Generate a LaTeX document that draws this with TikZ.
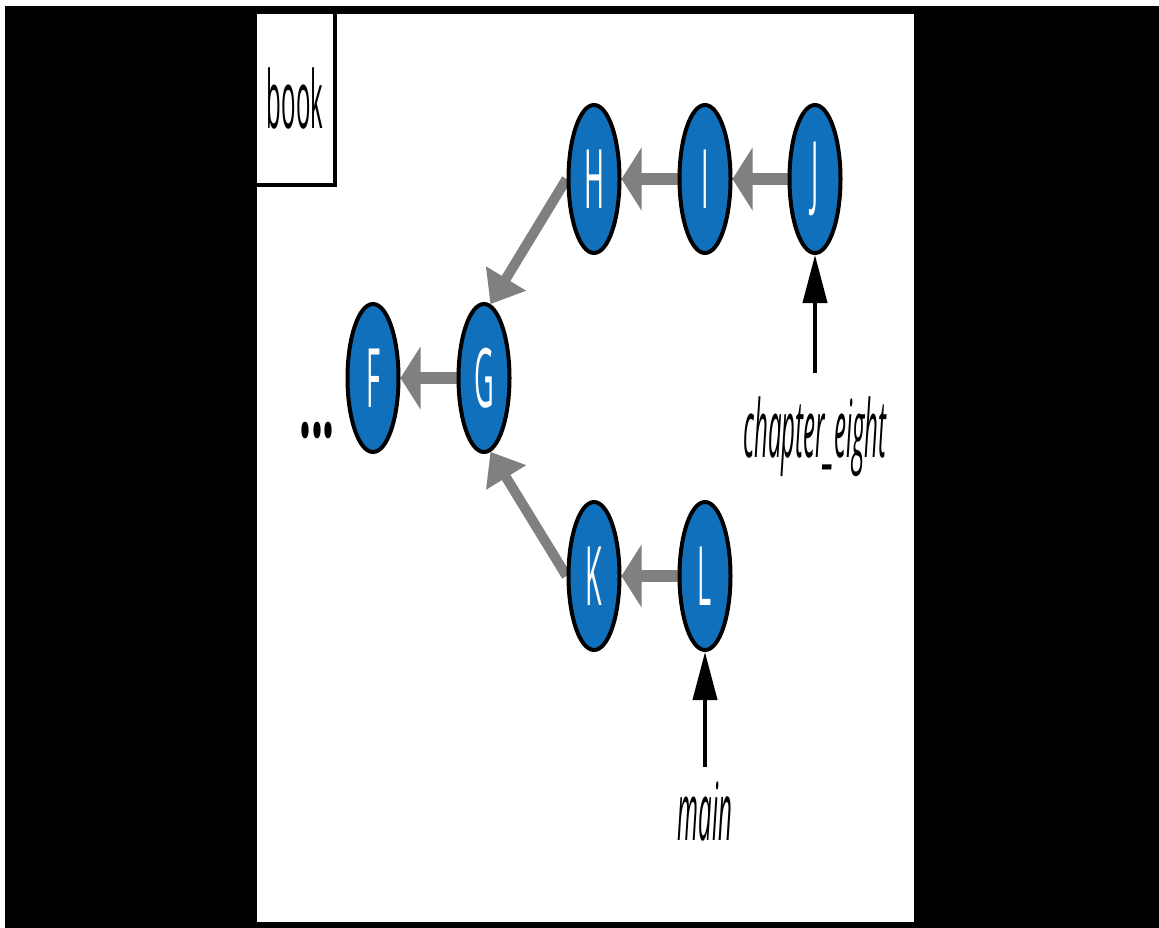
\documentclass[tikz,border=0pt]{standalone}
\usepackage{fontspec}
\setmainfont{Open Sans}
\newfontfamily\condletter[FakeStretch=0.33]{Open Sans}
\newfontfamily\condlabel[FakeStretch=0.30]{Open Sans}
\newfontfamily\conddots[FakeStretch=0.42]{Open Sans}
\usetikzlibrary{arrows.meta,shapes.geometric}
\definecolor{nodeblue}{RGB}{17,112,187}
\definecolor{arrowgray}{RGB}{128,128,128}
\pgfdeclarelayer{back}
\pgfdeclarelayer{links}
\pgfsetlayers{back,links,main}
\begin{document}
\begin{tikzpicture}[x=1pt,y=-1pt,
  commit/.style={ellipse, draw=black, line width=4pt, fill=nodeblue,
    minimum width=51pt, minimum height=148pt, inner sep=0pt, text=white,
    font=\condletter\fontsize{82}{82}\selectfont},
  garrow/.style={draw=arrowgray, line width=12pt,
    -{Triangle[length=20pt,width=62pt]}},
  darrow/.style={draw=arrowgray, line width=10pt,
    -{Triangle[length=30pt,width=45pt]}},
  barrow/.style={draw=black, line width=4pt,
    -{Triangle[length=48pt,width=24pt]}},
  reflabel/.style={font=\condlabel\itshape\fontsize{80}{80}\selectfont, inner sep=0pt, anchor=base},
  panelbox/.style={draw=black, line width=4pt, fill=white}
]
\useasboundingbox (0,0) rectangle (1159,928);
\begin{pgfonlayer}{back}
\fill[white] (0,0) rectangle (1159,928);
\fill[black] (5,6) rectangle (1159,928);
\draw[panelbox] (255,12) rectangle (916,924);
\end{pgfonlayer}

\node[draw=black, line width=3.5pt, minimum width=80pt, minimum height=173pt,
  inner sep=0pt, font=\condlabel\fontsize{80}{80}\selectfont] (book) at (295,98.5) {book};

\node[commit] (F) at (373,378) {F};
\node[commit] (G) at (484,378) {G};
\node[commit] (H) at (594,179) {H};
\node[commit] (I) at (705,179) {I};
\node[commit] (J) at (815,179) {J};
\node[commit] (K) at (594,576) {K};
\node[commit] (L) at (705,576) {L};

\node[font=\conddots\bfseries\fontsize{100}{100}\selectfont, inner sep=0pt, anchor=base] (dots) at (317,437) {...};

\node[reflabel] (ce) at (815,457) {chapter\_eight};
\node[reflabel] (mn) at (705,840) {main};
\coordinate (cetail) at (815,373);
\coordinate (mntail) at (705,767);

\begin{pgfonlayer}{links}
\draw[garrow] (G) -- (F);
\draw[garrow] (I) -- (H);
\draw[garrow] (J) -- (I);
\draw[garrow] (L) -- (K);
\draw[darrow] (H.west) -- (G.85);
\draw[darrow] (K.west) -- (G.-85);
\end{pgfonlayer}
\draw[barrow] (cetail) -- (J.south);
\draw[barrow] (mntail) -- (L.south);
\end{tikzpicture}
\end{document}
